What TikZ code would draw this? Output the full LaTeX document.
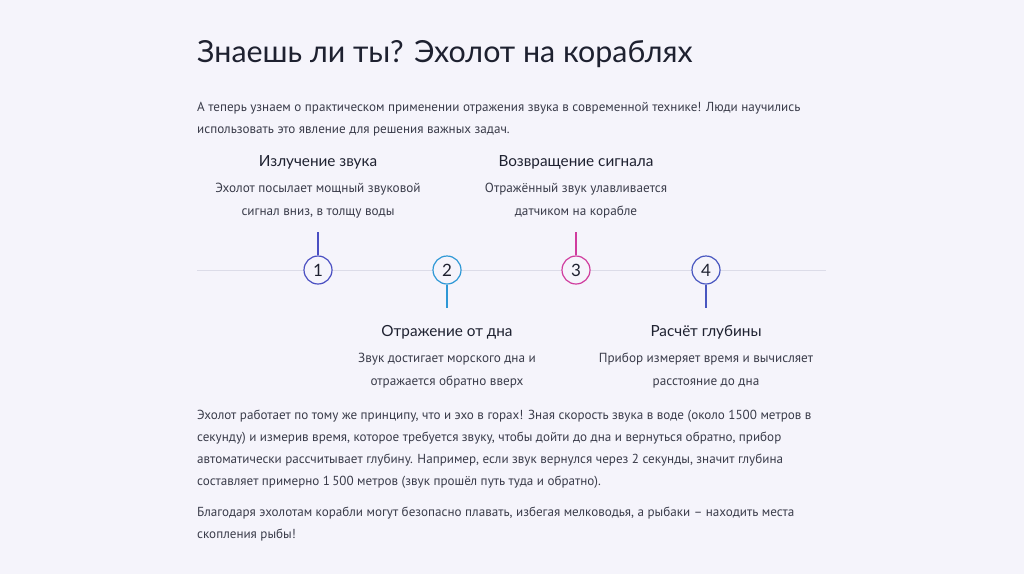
\documentclass[tikz,border=0pt]{standalone}
\usepackage{fontspec}
\setmainfont{PT Sans}
\newfontfamily\headfont{Lato}
\usetikzlibrary{positioning}
\definecolor{EchoInk}{HTML}{1E2130}
\definecolor{EchoText}{HTML}{3A3C4A}
\definecolor{EchoPaper}{HTML}{F5F4FB}
\definecolor{EchoRule}{HTML}{DCDCE8}
\definecolor{EchoIndigo}{HTML}{4A4FC2}
\definecolor{EchoSky}{HTML}{2E98D6}
\definecolor{EchoPink}{HTML}{D03C9E}
\definecolor{EchoBlue}{HTML}{4856C0}

\begin{document}
\begin{tikzpicture}[x=1pt, y=-1pt,
    stage/.style={circle, draw=#1, line width=1.2pt, fill=EchoPaper, minimum size=28pt,
      inner sep=0pt, font=\headfont\fontsize{17}{17}\selectfont, text=EchoInk},
    stem/.style={draw=#1, line width=1.5pt},
    head/.style={font=\headfont\fontsize{15.3}{17}\selectfont, text=EchoInk, anchor=base, inner sep=0pt},
    desc/.style={font=\fontsize{13.2}{23}\selectfont, text=EchoText, align=center, anchor=base, inner sep=0pt},
    para/.style={font=\fontsize{13.1}{22}\selectfont, text=EchoText, align=left, anchor=base west, inner sep=0pt}
  ]
    \fill[EchoPaper] (0,0) rectangle (1024,574);
    \useasboundingbox (0,0) rectangle (1024,574);

    \node[anchor=base west, inner sep=0pt, font=\headfont\fontsize{30.4}{32}\selectfont, text=EchoInk]
      (title) at (197,62) {Знаешь ли ты? Эхолот на кораблях};
    \node[para] (intro) at (197,133) {А теперь узнаем о практическом применении отражения звука в современной технике! Люди научились\\
      использовать это явление для решения важных задач.};

    \coordinate (railL) at (197,270);
    \coordinate (railR) at (826,270);
    \draw[EchoRule, line width=1pt] (railL) -- (railR);

    \node[stage=EchoIndigo] (s1) at (318,270) {1};
    \node[stage=EchoSky] (s2) at (447,270) {2};
    \node[stage=EchoPink] (s3) at (576,270) {3};
    \node[stage=EchoBlue] (s4) at (706,270) {4};

    \coordinate (t1) at (318,232);
    \coordinate (t2) at (447,308);
    \coordinate (t3) at (576,232);
    \coordinate (t4) at (706,308);
    \draw[stem=EchoIndigo] (s1) -- (t1);
    \draw[stem=EchoSky] (s2) -- (t2);
    \draw[stem=EchoPink] (s3) -- (t3);
    \draw[stem=EchoBlue] (s4) -- (t4);

    \node[head] (h1) at (318,166) {Излучение звука};
    \node[desc] (d1) at (318,215) {Эхолот посылает мощный звуковой\\сигнал вниз, в толщу воды};
    \node[head] (h3) at (576,166) {Возвращение сигнала};
    \node[desc] (d3) at (576,215) {Отражённый звук улавливается\\датчиком на корабле};
    \node[head] (h2) at (447,336) {Отражение от дна};
    \node[desc] (d2) at (447,385) {Звук достигает морского дна и\\отражается обратно вверх};
    \node[head] (h4) at (706,336) {Расчёт глубины};
    \node[desc] (d4) at (706,385) {Прибор измеряет время и вычисляет\\расстояние до дна};

    \node[para] (body) at (197,485) {Эхолот работает по тому же принципу, что и эхо в горах! Зная скорость звука в воде (около 1500 метров в\\
      секунду) и измерив время, которое требуется звуку, чтобы дойти до дна и вернуться обратно, прибор\\
      автоматически рассчитывает глубину. Например, если звук вернулся через 2 секунды, значит глубина\\
      составляет примерно 1\,500 метров (звук прошёл путь туда и обратно).};
    \node[para] (outro) at (197,538) {Благодаря эхолотам корабли могут безопасно плавать, избегая мелководья, а рыбаки – находить места\\
      скопления рыбы!};
  \end{tikzpicture}
\end{document}
